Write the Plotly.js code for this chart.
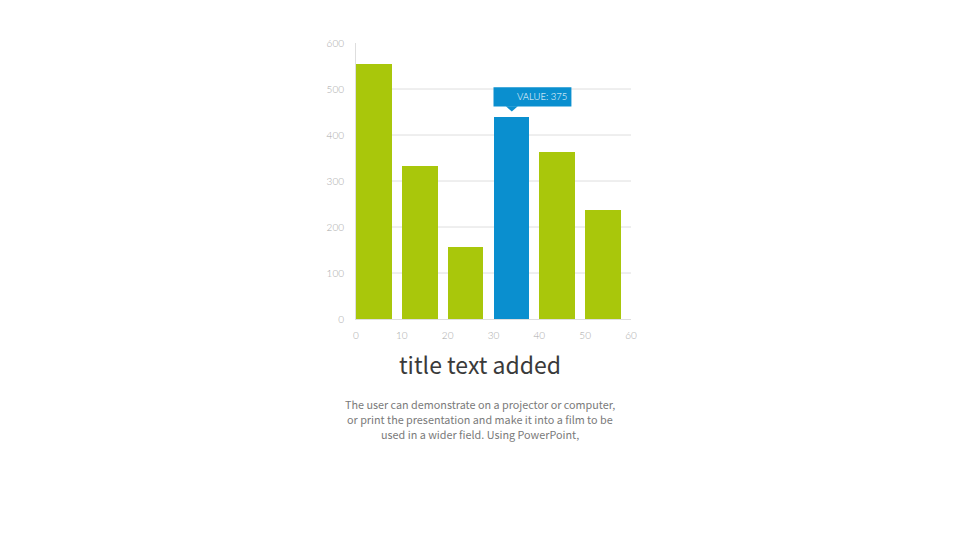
<!DOCTYPE html>
<html>
<head>
<meta charset="utf-8">
<script src="https://cdn.plot.ly/plotly-3.0.1.min.js"></script>
<style>html,body{margin:0;padding:0;background:#fff;}#chart{width:960px;height:540px;}</style>
</head>
<body>
<div id="chart"></div>
<script>
// Data
const xPositions = [0, 10, 20, 30, 40, 50];
const values = [555, 333, 156, 440, 363, 237];
const highlightIndex = 3;
const tooltipText = "VALUE: 375";
const yTicks = [0, 100, 200, 300, 400, 500, 600];
const xTicks = [0, 10, 20, 30, 40, 50, 60];
const titleText = "title text added";
const bodyLines = [
  "The user can demonstrate on a projector or computer,",
  "or print the presentation and make it into a film to be",
  "used in a wider field. Using PowerPoint,"
];

const green = "#a9c70b";
const blue = "#0a8fcf";
const colors = values.map((v, i) => i === highlightIndex ? blue : green);

const barWidth = 7.8;
const trace = {
  type: "bar",
  x: xPositions,
  y: values,
  offset: 0,
  width: barWidth,
  marker: {color: colors, line: {width: 0}},
  hoverinfo: "none"
};

const hx = xPositions[highlightIndex];
const hv = values[highlightIndex];

const shapes = [];
// horizontal gridlines (not at the top)
yTicks.filter(v => v > 0 && v < 600).forEach(v => {
  shapes.push({type: "line", xref: "x", yref: "y", x0: 0, x1: 60, y0: v, y1: v,
    line: {color: "#dedede", width: 1}, layer: "below"});
});
// tooltip box
shapes.push({type: "rect", xref: "x", yref: "y", x0: hx, x1: hx + 17, y0: hv + 22, y1: hv + 64,
  fillcolor: blue, line: {width: 0}, layer: "above"});
shapes.push({type: "path", xref: "x", yref: "y",
  path: `M ${hx + 2.7} ${hv + 22.5} L ${hx + 5.3} ${hv + 22.5} L ${hx + 4} ${hv + 11} Z`,
  fillcolor: blue, line: {width: 0}, layer: "above"});

const plotTop = 43.4, plotBottom = 319, plotH = plotBottom - plotTop;
const annotations = [
  {xref: "x", yref: "y", x: hx + 10.5, y: hv + 43, text: tooltipText, showarrow: false,
   font: {family: "Lato, sans-serif", size: 9.5, weight: 300, color: "#ffffff"}, xanchor: "center", yanchor: "middle"}
];
bodyLines.forEach((line, i) => {
  annotations.push({
    xref: "paper", yref: "paper", x: (480 - 355.5) / 276, y: (plotBottom - (404 + 15 * i)) / plotH,
    text: line, showarrow: false, align: "center",
    font: {family: "'Noto Sans CJK SC', 'Noto Sans', sans-serif", size: 10.8, color: "#7a7a7a"},
    xanchor: "center", yanchor: "middle"
  });
});

const layout = {
  width: 960,
  height: 540,
  paper_bgcolor: "#ffffff",
  plot_bgcolor: "#ffffff",
  margin: {l: 355.5, r: 328.5, t: plotTop, b: 540 - plotBottom},
  showlegend: false,
  title: {
    text: titleText,
    x: 480 / 960, xanchor: "center",
    y: 1 - 366 / 540, yanchor: "middle",
    xref: "container", yref: "container",
    font: {family: "'Noto Sans CJK SC', 'Noto Sans', sans-serif", size: 23, color: "#3a3a3a"}
  },
  xaxis: {
    range: [0, 60],
    tickvals: xTicks,
    ticktext: xTicks.map(String),
    showgrid: false,
    zeroline: false,
    showline: true,
    linecolor: "#dedede",
    linewidth: 1,
    ticks: "",
    ticklabelstandoff: 7,
    tickfont: {family: "Lato, sans-serif", size: 10, weight: 300, color: "#a8a8a8"},
    fixedrange: true
  },
  yaxis: {
    range: [0, 600],
    tickvals: yTicks,
    ticktext: yTicks.map(String),
    showgrid: false,
    zeroline: false,
    showline: true,
    linecolor: "#dedede",
    linewidth: 1,
    ticks: "",
    ticklabelstandoff: 9,
    tickfont: {family: "Lato, sans-serif", size: 10, weight: 300, color: "#a8a8a8"},
    fixedrange: true
  },
  shapes: shapes,
  annotations: annotations,
  bargap: 0
};

Plotly.newPlot("chart", [trace], layout, {displayModeBar: false, staticPlot: true});
</script>
</body>
</html>
